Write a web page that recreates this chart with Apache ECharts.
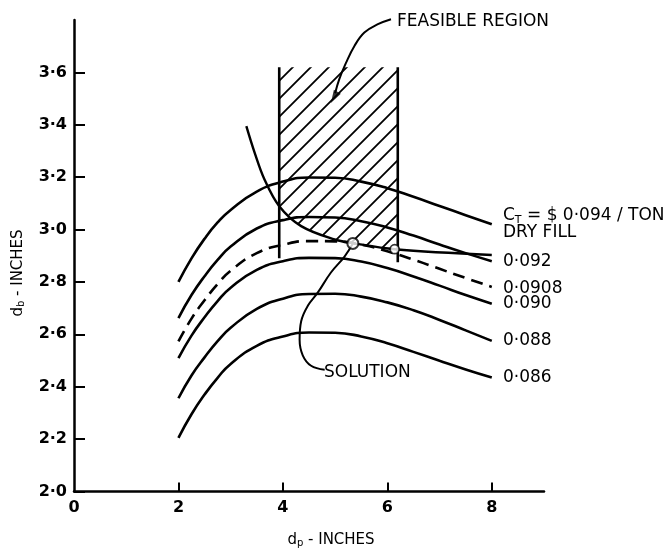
<!DOCTYPE html>
<html>
<head>
<meta charset="utf-8">
<script src="https://cdn.jsdelivr.net/npm/echarts@6/dist/echarts.min.js"></script>
<style>
  html, body { margin: 0; padding: 0; background: #fff; }
  #chart { width: 672px; height: 558px; }
</style>
</head>
<body>
<div id="chart"></div>
<script>
// d_p (inches) where the cost curves were read
const dpValues = [2, 2.25, 2.5, 2.75, 3, 3.5, 4, 4.5, 5, 5.5, 6, 6.5, 7, 7.5, 8];
// d_b (inches) for each total cost C_T ($ / ton dry fill)
const cost094 = [2.80, 2.89, 2.965, 3.027, 3.075, 3.145, 3.183, 3.199, 3.198, 3.183, 3.158, 3.125, 3.09, 3.055, 3.02];
const cost092 = [2.662, 2.75, 2.822, 2.884, 2.935, 3.004, 3.036, 3.048, 3.046, 3.032, 3.008, 2.977, 2.943, 2.91, 2.879];
const cost0908 = [2.573, 2.66, 2.73, 2.792, 2.843, 2.91, 2.942, 2.956, 2.955, 2.942, 2.917, 2.885, 2.85, 2.815, 2.781];
const cost090 = [2.509, 2.595, 2.665, 2.727, 2.778, 2.846, 2.879, 2.892, 2.891, 2.878, 2.853, 2.821, 2.786, 2.75, 2.717];
const cost088 = [2.356, 2.443, 2.512, 2.574, 2.625, 2.697, 2.736, 2.754, 2.755, 2.744, 2.722, 2.692, 2.655, 2.615, 2.575];
const cost086 = [2.205, 2.295, 2.37, 2.434, 2.487, 2.556, 2.592, 2.607, 2.606, 2.592, 2.566, 2.533, 2.499, 2.466, 2.435];

// constraint curve [d_p, d_b]
const constraintCurve = [[3.3, 3.395], [3.46, 3.293], [3.65, 3.19], [3.93, 3.089], [4.35, 3.013],
  [4.99, 2.962], [5.34, 2.948], [6.14, 2.925], [8.0, 2.903]];
// feasible region limits
const dpLow = 3.93, dpHigh = 6.2, dbTop = 3.62;
const leftLimit = [[dpLow, 2.89], [dpLow, dbTop]];
const rightLimit = [[dpHigh, 2.875], [dpHigh, dbTop]];

// marked points
const solutionPoint = [[5.34, 2.947]];
const cornerPoint = [[6.14, 2.925]];

// leader lines for the notes
const feasibleLeader = [[6.07, 3.803], [5.82, 3.784], [5.56, 3.752], [5.37, 3.701], [5.21, 3.637], [5.08, 3.574], [5.0, 3.52]];
const solutionLeader = [[5.34, 2.947], [5.18, 2.897], [4.92, 2.836], [4.67, 2.76], [4.48, 2.71], [4.35, 2.65],
  [4.32, 2.58], [4.38, 2.52], [4.54, 2.48], [4.80, 2.465]];

const yTicks = [2.0, 2.2, 2.4, 2.6, 2.8, 3.0, 3.2, 3.4, 3.6];
const xLabels = [0, 2, 4, 6, 8];
const xTicks = [2, 4, 6, 8];
const curveLabels = [['0·092', 262], ['0·0908', 289], ['0·090', 304], ['0·088', 341], ['0·086', 378]];

const FONT = 'DejaVu Sans';

function pairs(arr) {
  return dpValues.map((x, i) => [x, arr[i]]);
}

// hatch pattern for the feasible region
const tile = document.createElement('canvas');
tile.width = 18;
tile.height = 18;
const tctx = tile.getContext('2d');
tctx.strokeStyle = '#000';
tctx.lineWidth = 1.8;
tctx.beginPath();
tctx.moveTo(-1, 19); tctx.lineTo(19, -1);
tctx.moveTo(-3, 3); tctx.lineTo(3, -3);
tctx.moveTo(15, 21); tctx.lineTo(21, 15);
tctx.stroke();
const hatch = { image: tile, repeat: 'repeat' };

// polygon: top edge, right limit, then back along constraint curve
const feasiblePolygon = [[dpLow, dbTop], [dpHigh, dbTop], [dpHigh, 2.923]]
  .concat(constraintCurve.filter(p => p[0] >= dpLow && p[0] < dpHigh).reverse());

function curve(data, dashed) {
  return {
    type: 'line',
    data: data,
    smooth: 0.5,
    symbol: 'none',
    lineStyle: { color: '#000', width: 2.6, type: dashed ? [12, 7] : 'solid' },
    z: 3
  };
}

function label(text, x, y) {
  return {
    type: 'text', x: x, y: y,
    style: { text: text, font: '17px "' + FONT + '"', fill: '#000', textVerticalAlign: 'middle' }
  };
}

const chart = echarts.init(document.getElementById('chart'));
chart.setOption({
  animation: false,
  backgroundColor: '#fff',
  grid: { left: 74, right: 128, top: 20, bottom: 66.5 },
  xAxis: {
    type: 'value', min: 0, max: 9, interval: 2,
    axisLine: { lineStyle: { color: '#000', width: 2.5 } },
    axisTick: { inside: true, length: 9, customValues: xTicks, lineStyle: { color: '#000', width: 2 } },
    axisLabel: { customValues: xLabels, color: '#000', fontFamily: FONT, fontWeight: 'bold', fontSize: 16, margin: 8 },
    splitLine: { show: false }
  },
  yAxis: {
    type: 'value', min: 2.0, max: 3.8, interval: 0.2,
    axisLine: { lineStyle: { color: '#000', width: 2.5 } },
    axisTick: { inside: true, length: 11, customValues: yTicks, lineStyle: { color: '#000', width: 2 } },
    axisLabel: {
      customValues: yTicks, color: '#000', fontFamily: FONT, fontWeight: 'bold', fontSize: 16, margin: 7,
      formatter: v => v.toFixed(1).replace('.', '·')
    },
    splitLine: { show: false }
  },
  series: [
    {
      type: 'custom',
      silent: true,
      data: [[0, 0]],
      renderItem: function (params, api) {
        return {
          type: 'polygon',
          shape: { points: feasiblePolygon.map(p => api.coord(p)) },
          style: { fill: hatch, stroke: null }
        };
      },
      z: 1
    },
    curve(pairs(cost094)),
    curve(pairs(cost092)),
    curve(pairs(cost0908), true),
    curve(pairs(cost090)),
    curve(pairs(cost088)),
    curve(pairs(cost086)),
    { type: 'line', data: constraintCurve, smooth: 0.35, symbol: 'none', lineStyle: { color: '#000', width: 2.4 }, z: 3 },
    { type: 'line', data: leftLimit, symbol: 'none', lineStyle: { color: '#000', width: 2.6 }, z: 3 },
    { type: 'line', data: rightLimit, symbol: 'none', lineStyle: { color: '#000', width: 2.6 }, z: 3 },
    { type: 'line', data: feasibleLeader, smooth: 0.4, clip: false, symbol: 'none', lineStyle: { color: '#000', width: 2 }, z: 3 },
    {
      type: 'scatter', data: [feasibleLeader[feasibleLeader.length - 1]],
      symbol: 'triangle', symbolSize: [8, 13], symbolRotate: 150, symbolOffset: [-1, 4],
      itemStyle: { color: '#000' }, z: 4
    },
    { type: 'line', data: solutionLeader, smooth: 0.4, symbol: 'none', lineStyle: { color: '#000', width: 2 }, z: 3 },
    {
      type: 'scatter', data: solutionPoint, symbol: 'circle', symbolSize: 11,
      itemStyle: { color: '#fff', borderColor: '#000', borderWidth: 2 }, z: 5
    },
    {
      type: 'scatter', data: cornerPoint, symbol: 'circle', symbolSize: 9,
      itemStyle: { color: '#fff', borderColor: '#000', borderWidth: 1.8 }, z: 5
    }
  ],
  graphic: [
    label('FEASIBLE REGION', 397, 22),
    label('SOLUTION', 324, 373),
    {
      type: 'text', x: 503, y: 216,
      style: {
        text: '{a|C}{s|T}{a| = $ 0·094 / TON}', textVerticalAlign: 'middle',
        rich: {
          a: { fontFamily: FONT, fontSize: 17, color: '#000' },
          s: { fontFamily: FONT, fontSize: 11, color: '#000', padding: [8, 0, 0, 0] }
        }
      }
    },
    label('DRY FILL', 503, 233)
  ].concat(curveLabels.map(l => label(l[0], 503, l[1]))).concat([
    {
      type: 'text', x: 18, y: 273, rotation: Math.PI / 2,
      style: {
        text: '{a|d}{s|b}{a| - INCHES}', textAlign: 'center', textVerticalAlign: 'middle',
        rich: {
          a: { fontFamily: FONT, fontSize: 15, color: '#000' },
          s: { fontFamily: FONT, fontSize: 10, color: '#000', padding: [7, 0, 0, 0] }
        }
      }
    },
    {
      type: 'text', x: 331, y: 540,
      style: {
        text: '{a|d}{s|p}{a| - INCHES}', textAlign: 'center', textVerticalAlign: 'middle',
        rich: {
          a: { fontFamily: FONT, fontSize: 15, color: '#000' },
          s: { fontFamily: FONT, fontSize: 10, color: '#000', padding: [7, 0, 0, 0] }
        }
      }
    }
  ])
});
</script>
</body>
</html>
